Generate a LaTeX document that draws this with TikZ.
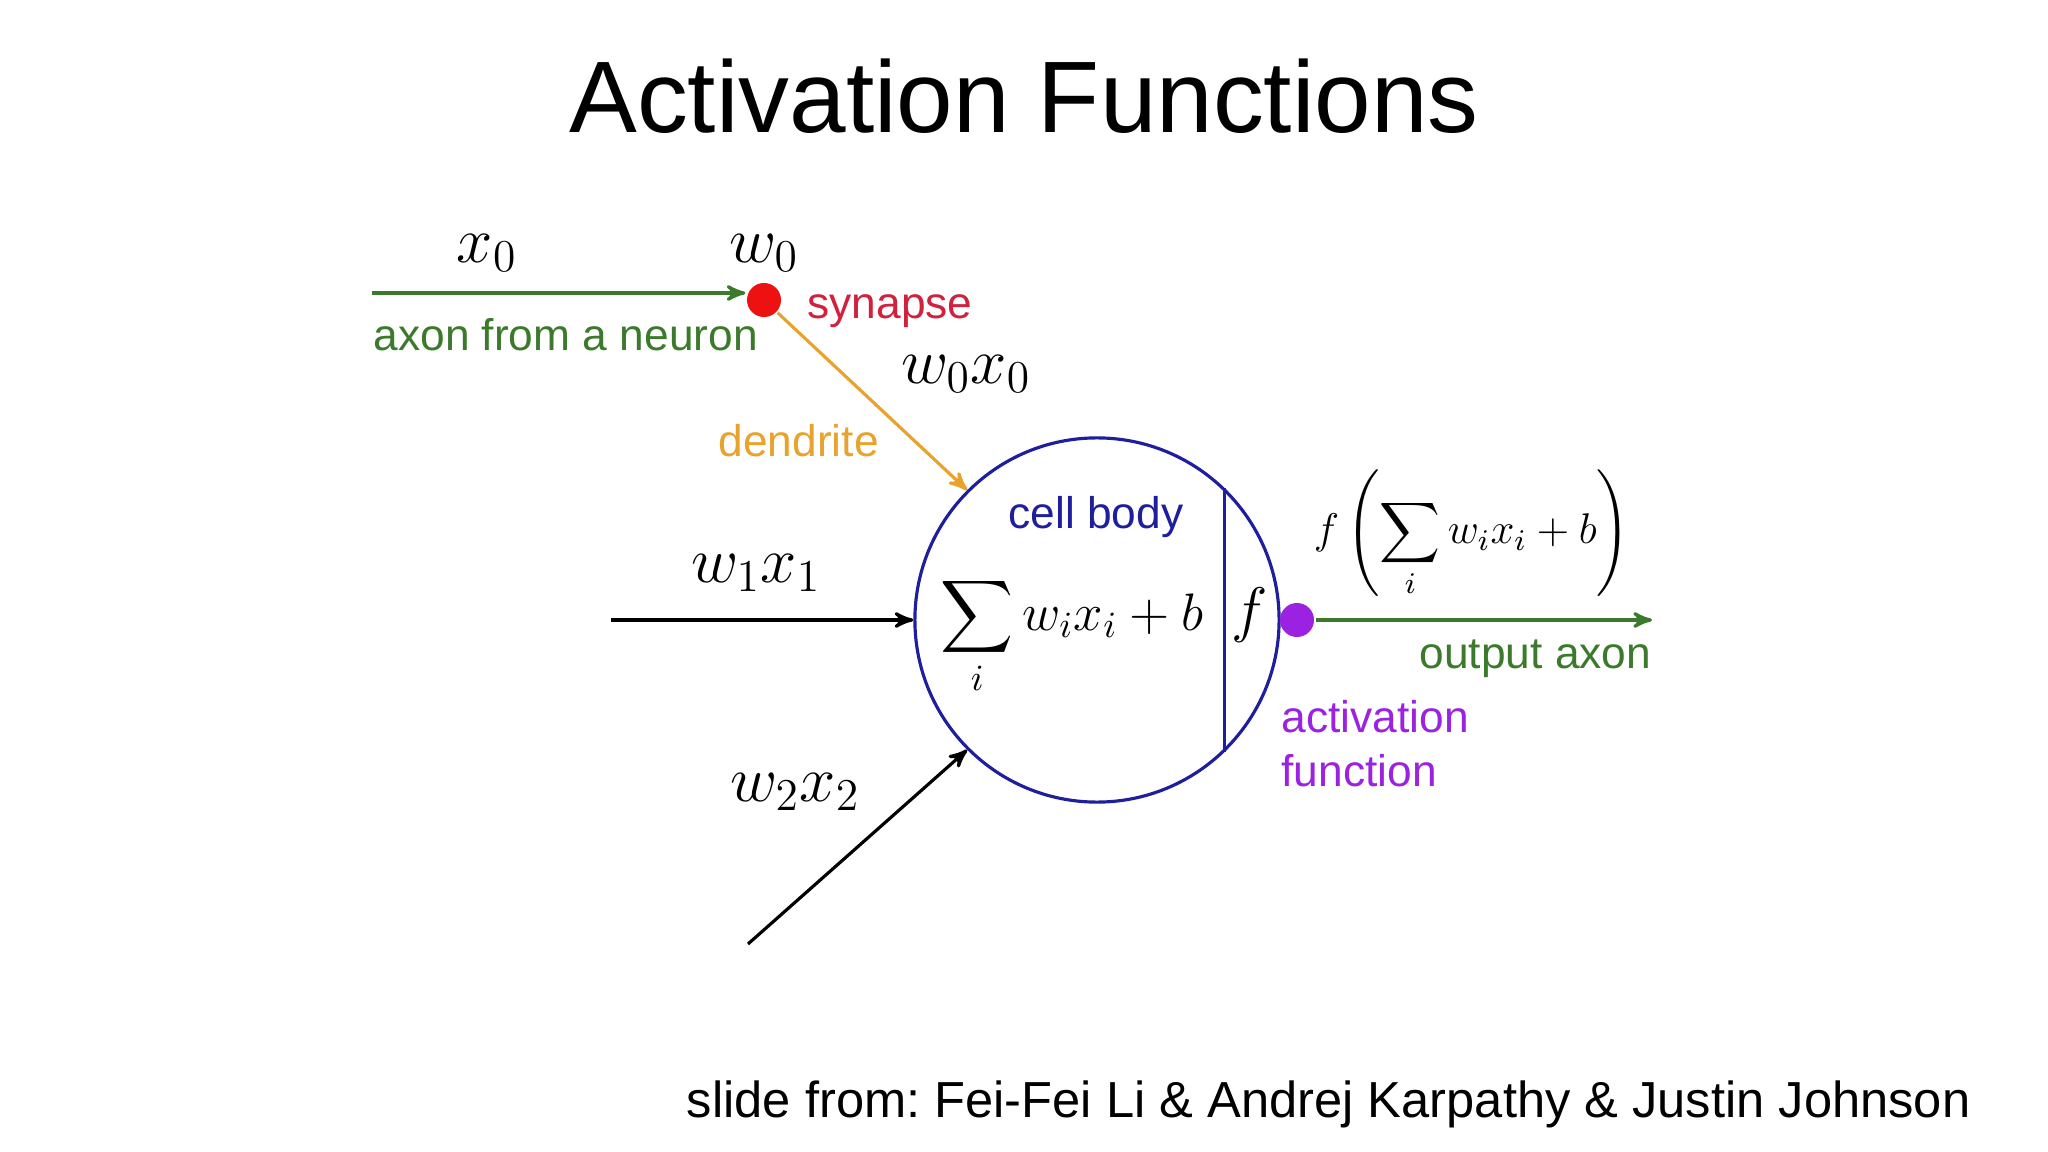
\RequirePackage{fix-cm}
\documentclass[tikz,border=0pt]{standalone}
\usepackage{amsmath}
\usepackage[no-math]{fontspec}
\setmainfont{Liberation Sans}
\usepackage{tikz}
\usetikzlibrary{arrows,positioning}

\definecolor{axongreen}{HTML}{3A7A2A}
\definecolor{synred}{HTML}{EE1111}
\definecolor{syntext}{HTML}{D0213D}
\definecolor{dendorange}{HTML}{E8A22E}
\definecolor{cellblue}{HTML}{1F1F9E}
\definecolor{actviolet}{HTML}{9B22E0}

\frenchspacing
\begin{document}
\begin{tikzpicture}[->,>=stealth',x=0.01cm,y=-0.01cm,line width=0.9pt]
\tikzstyle{every node}=[inner sep=0pt]
\tikzstyle{lbl}=[font=\fontsize{12.6}{15.3}\selectfont]
\tikzstyle{mathlbl}=[font=\fontsize{18.5}{20}\selectfont]
\tikzstyle{dot}=[circle,minimum size=0.34cm,draw=none]
\tikzstyle{cell}=[circle,draw=cellblue,minimum size=3.64cm]
\useasboundingbox (0,0) rectangle (2048,1152);

\node [font=\fontsize{28.9}{34}\selectfont,anchor=base] (title) at (1024,133) {Activation Functions};

% neuron
\node [cell] (cell) at (1097,620) {};
\draw [-,cellblue] (cell.46) -- (cell.-46);
\node [dot,fill=synred] (syn) at (764,300) {};
\node [dot,fill=actviolet] (act) at (1297,620) {};
\coordinate (in0) at (372,293);
\coordinate (in1) at (611,620);
\coordinate (in2) at (748,944);
\coordinate (out) at (1652,620);

\node [font=\fontsize{15}{18}\selectfont,anchor=base] (sumf) at (1072,630) {$\displaystyle\sum_i w_ix_i+b$};
\node [font=\fontsize{17.5}{20}\selectfont,anchor=base] (fn) at (1250,630) {$f$};

% labels
\node [mathlbl] (x0) at (487,253) {$x_0$};
\node [mathlbl,above of=syn,node distance=0.47cm] (w0) {$w_0$};
\node [mathlbl] (w0x0) at (966,374) {$w_0x_0$};
\node [mathlbl] (w1x1) at (756,573) {$w_1x_1$};
\node [mathlbl] (w2x2) at (795,792) {$w_2x_2$};
\node [font=\fontsize{12.2}{15}\selectfont] (fout) at (1472,534) {$\displaystyle f\left(\sum_i w_ix_i+b\right)$};

\node [lbl,syntext,anchor=base west] (synlbl) at (806,319) {synapse};
\node [lbl,axongreen,anchor=base west] (axonlbl) at (372,351) {axon from a neuron};
\node [lbl,dendorange,anchor=base west] (dendlbl) at (717,457) {dendrite};
\node [lbl,cellblue,anchor=base west] (celllbl) at (1007,528) {cell body};
\node [lbl,axongreen,anchor=base west] (outlbl) at (1418,668) {output axon};
\node [lbl,actviolet,align=left,anchor=north west] (actlbl) at (1280,699) {activation\\function};

\path (in0) edge [axongreen] (in0 -| syn.west)
      (syn) edge [dendorange] (cell.135)
      (in1) edge (cell.west)
      (in2) edge (cell.225)
      (act) edge [axongreen] (out);

\node [font=\fontsize{14.4}{17}\selectfont,anchor=base east] (credit) at (1972,1117) {slide from: Fei-Fei Li \& Andrej Karpathy \& Justin Johnson};
\end{tikzpicture}
\end{document}
